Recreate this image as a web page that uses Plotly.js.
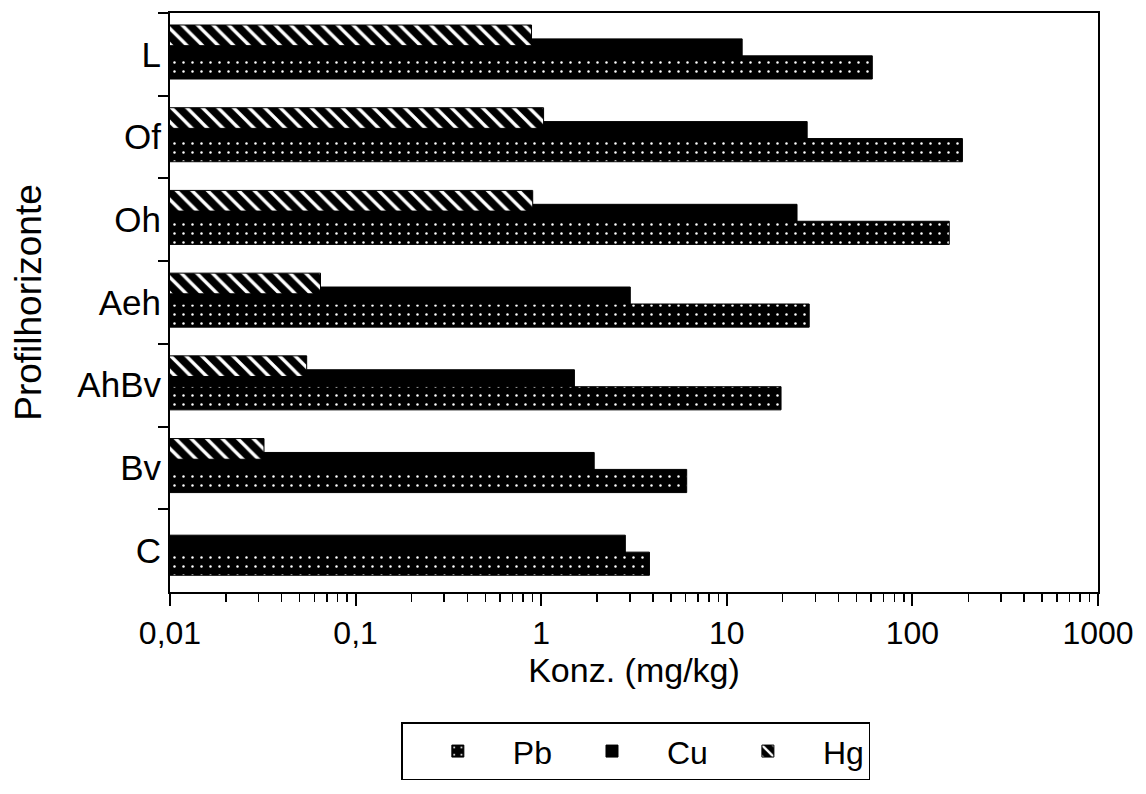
<!DOCTYPE html>
<html>
<head>
<meta charset="utf-8">
<script src="https://cdn.plot.ly/plotly-3.0.1.min.js"></script>
<style>
html,body{margin:0;padding:0;background:#fff;}
#chart{width:1146px;height:794px;}
</style>
</head>
<body>
<div id="chart"></div>
<script>
// Data
const categories = ['L', 'Of', 'Oh', 'Aeh', 'AhBv', 'Bv', 'C'];
const pbValues = [60.8, 186, 158, 27.8, 19.6, 6.08, 3.83];
const cuValues = [12.1, 27.1, 23.9, 3.02, 1.51, 1.93, 2.84];
const hgValues = [0.887, 1.03, 0.90, 0.0647, 0.0545, 0.0321, null];
const xTickVals = [0.01, 0.1, 1, 10, 100, 1000];
const xTickText = ['0,01', '0,1', '1', '10', '100', '1000'];
const minorMultipliers = [2, 3, 4, 5, 6, 7, 8, 9];
const decades = [0.01, 0.1, 1, 10, 100];

const minorVals = [];
decades.forEach(d => minorMultipliers.forEach(m => minorVals.push(+(d * m).toPrecision(3))));

const FONT = 'Liberation Sans, Arial, sans-serif';

const traceCu = {
  type: 'bar', orientation: 'h', name: 'Cu',
  y: categories, x: cuValues,
  offset: -0.187, width: 0.26,
  marker: {color: '#000', line: {color: '#000', width: 1}},
  legendrank: 2
};
const traceHg = {
  type: 'bar', orientation: 'h', name: 'Hg',
  y: categories, x: hgValues,
  offset: -0.355, width: 0.25,
  marker: {color: '#000', line: {color: '#000', width: 1},
    pattern: {shape: '\\', fgcolor: '#fff', bgcolor: '#000', size: 11, solidity: 0.3}},
  legendrank: 3
};
const tracePb = {
  type: 'bar', orientation: 'h', name: 'Pb',
  y: categories, x: pbValues,
  offset: 0.018, width: 0.28,
  marker: {color: '#000', line: {color: '#000', width: 1},
    pattern: {shape: '.', fgcolor: '#fff', bgcolor: '#000', size: 9, solidity: 0.06}},
  legendrank: 1
};

const layout = {
  width: 1146, height: 794,
  margin: {l: 170, r: 48, t: 13, b: 202},
  paper_bgcolor: '#fff', plot_bgcolor: '#fff',
  barmode: 'overlay',
  font: {family: FONT, size: 32, color: '#000'},
  showlegend: true,
  legend: {
    orientation: 'h', x: 0.502, xanchor: 'center', y: -0.225, yanchor: 'top',
    bordercolor: '#000', borderwidth: 1.5, bgcolor: '#fff',
    font: {family: FONT, size: 32, color: '#000'},
    itemwidth: 100, traceorder: 'normal'
  },
  xaxis: {
    type: 'log', range: [-2, 3],
    tickmode: 'array', tickvals: xTickVals, ticktext: xTickText,
    ticks: 'outside', ticklen: 12, tickwidth: 2, tickcolor: '#000',
    minor: {tickmode: 'array', tickvals: minorVals, ticks: 'outside', ticklen: 8, tickwidth: 1.5, tickcolor: '#000', showgrid: false},
    showgrid: false, zeroline: false,
    showline: true, linecolor: '#000', linewidth: 2, mirror: true,
    tickfont: {family: FONT, size: 32, color: '#000'},
    title: {text: 'Konz. (mg/kg)', font: {family: FONT, size: 34, color: '#000'}, standoff: 4}
  },
  yaxis: {
    type: 'category', categoryorder: 'array', categoryarray: categories,
    autorange: 'reversed',
    tickson: 'boundaries', ticks: 'outside', ticklen: 10, tickwidth: 2, tickcolor: '#000',
    showgrid: false, zeroline: false,
    showline: true, linecolor: '#000', linewidth: 2, mirror: true,
    tickfont: {family: FONT, size: 35, color: '#000'},
    title: {text: 'Profilhorizonte', font: {family: FONT, size: 37, color: '#000'}, standoff: 24}
  }
};

Plotly.newPlot('chart', [traceCu, traceHg, tracePb], layout, {displayModeBar: false, staticPlot: true});
</script>
</body>
</html>
